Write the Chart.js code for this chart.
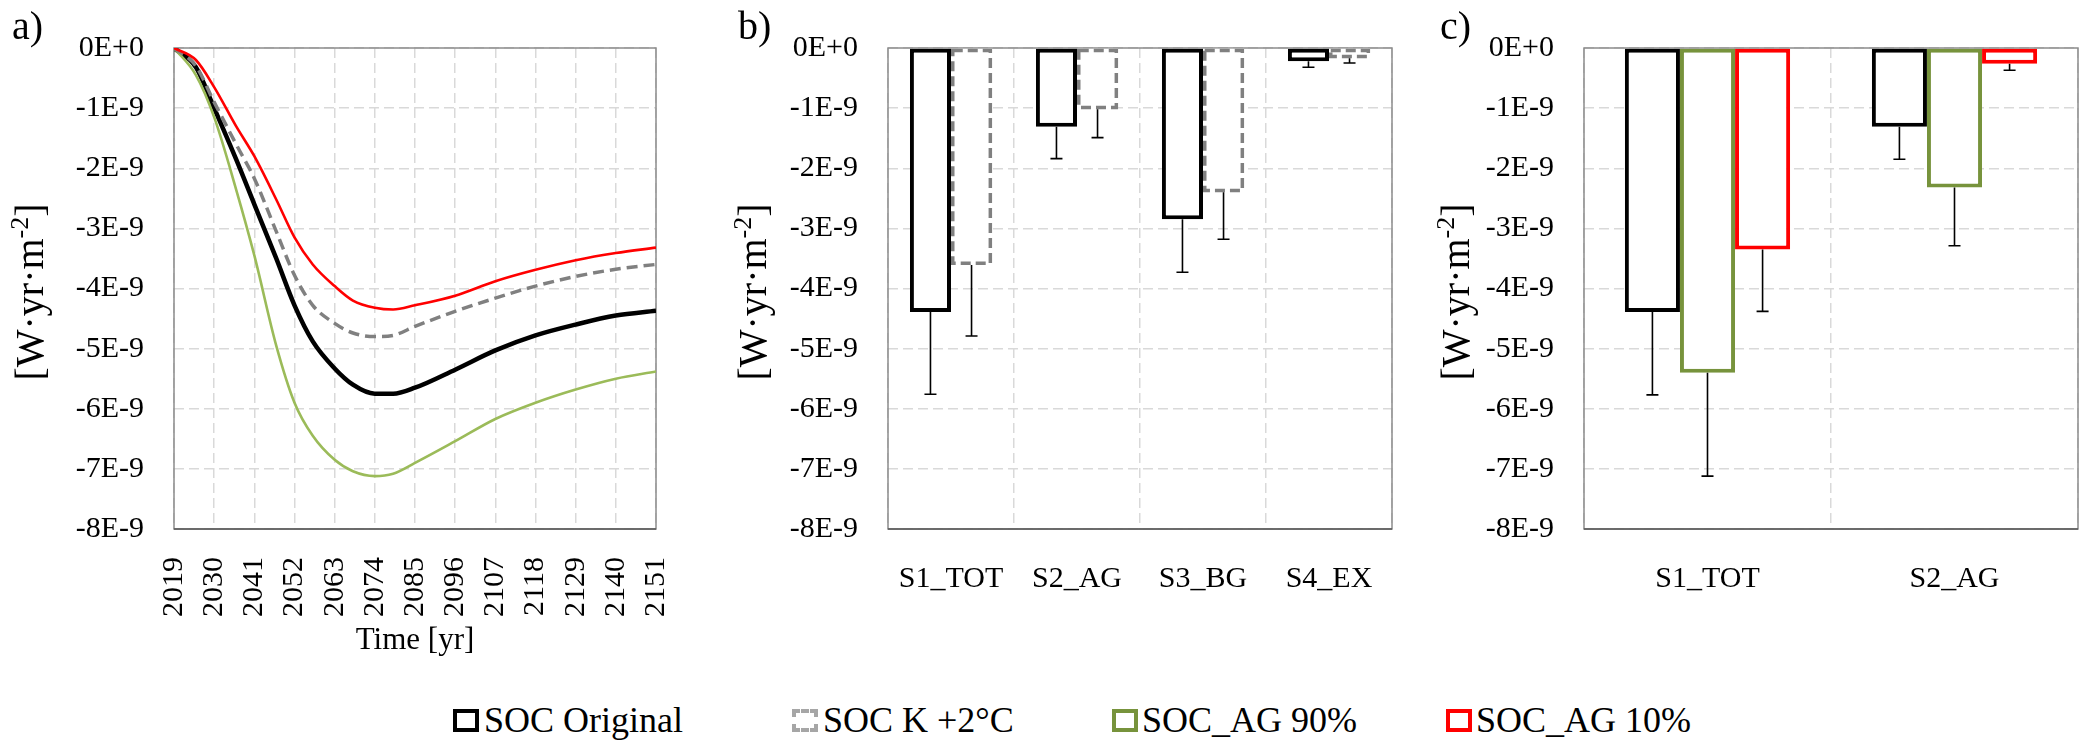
<!DOCTYPE html>
<html>
<head>
<meta charset="utf-8">
<script src="https://cdn.jsdelivr.net/npm/chart.js@4.4.1/dist/chart.umd.min.js"></script>
<style>
  body { margin: 0; background: #fff; }
  #page { position: relative; width: 2089px; height: 744px; overflow: hidden;
          font-family: 'Liberation Serif', serif; color: #000; background: #fff; }
  canvas { position: absolute; top: 0; }
  .panel-tag { position: absolute; top: 6px; font-size: 40px; line-height: 40px; }
  .y-title { position: absolute; font-size: 40px; line-height: 40px; white-space: nowrap;
             transform: translate(-50%, -50%) rotate(-90deg); }
  .y-title sup { font-size: 26px; line-height: 0; vertical-align: 15px; }
  .legend-box { position: absolute; top: 709px; width: 26px; height: 23px; box-sizing: border-box; background: #fff; }
  .legend-text { position: absolute; top: 702px; font-size: 36px; line-height: 36px; white-space: nowrap; }
</style>
</head>
<body>
<div id="page">
  <canvas id="chartA" width="720" height="700" style="left:0px;width:720px;height:700px"></canvas>
  <canvas id="chartB" width="690" height="700" style="left:720px;width:690px;height:700px"></canvas>
  <canvas id="chartC" width="669" height="700" style="left:1420px;width:669px;height:700px"></canvas>

  <div class="panel-tag" style="left:12px">a)</div>
  <div class="panel-tag" style="left:738px">b)</div>
  <div class="panel-tag" style="left:1440px">c)</div>

  <div class="y-title" style="left:30px;top:292px">[W·yr·m<sup>-2</sup>]</div>
  <div class="y-title" style="left:753px;top:292px">[W·yr·m<sup>-2</sup>]</div>
  <div class="y-title" style="left:1456px;top:292px">[W·yr·m<sup>-2</sup>]</div>

  <div class="legend-box" style="left:453px;border:4.5px solid #000"></div>
  <div class="legend-text" style="left:484px">SOC Original</div>
  <div class="legend-box" style="left:792px;border:4px dashed #A6A6A6"></div>
  <div class="legend-text" style="left:823px">SOC K +2°C</div>
  <div class="legend-box" style="left:1112px;border:4.5px solid #77933C"></div>
  <div class="legend-text" style="left:1142px">SOC_AG 90%</div>
  <div class="legend-box" style="left:1446px;border:4.5px solid #FF0000"></div>
  <div class="legend-text" style="left:1476px">SOC_AG 10%</div>
</div>

<script>
// values in units of 1E-9 W·yr·m-2

// a) time series
const years       = [2019, 2025, 2030, 2036, 2041, 2047, 2052, 2057, 2063, 2068, 2074, 2079, 2085, 2096, 2107, 2118, 2129, 2140, 2151];
const socOriginal = [0, -0.32, -1.0, -1.85, -2.6, -3.5, -4.28, -4.88, -5.33, -5.6, -5.75, -5.75, -5.65, -5.35, -5.03, -4.78, -4.6, -4.45, -4.37];
const socK2       = [0, -0.3, -0.9, -1.6, -2.17, -3.05, -3.78, -4.28, -4.58, -4.74, -4.8, -4.78, -4.63, -4.38, -4.16, -3.96, -3.8, -3.68, -3.6];
const socAg90     = [0, -0.45, -1.15, -2.35, -3.45, -4.95, -5.9, -6.45, -6.85, -7.04, -7.12, -7.08, -6.9, -6.54, -6.17, -5.9, -5.68, -5.5, -5.38];
const socAg10     = [0, -0.2, -0.65, -1.3, -1.8, -2.52, -3.15, -3.6, -3.96, -4.2, -4.32, -4.35, -4.28, -4.12, -3.88, -3.69, -3.53, -3.41, -3.32];

// b) scenarios, original vs K +2°C (bar value and lower end of error bar)
const scenariosB   = ['S1_TOT', 'S2_AG', 'S3_BG', 'S4_EX'];
const origB        = [-4.39, -1.31, -2.85, -0.22];
const origBErrLow  = [-5.76, -1.84, -3.73, -0.32];
const k2B          = [-3.61, -1.02, -2.4, -0.17];
const k2BErrLow    = [-4.79, -1.49, -3.18, -0.25];

// c) scenarios, original vs AG fractions
const scenariosC   = ['S1_TOT', 'S2_AG'];
const origC        = [-4.39, -1.31];
const origCErrLow  = [-5.77, -1.85];
const ag90C        = [-5.4, -2.32];
const ag90CErrLow  = [-7.12, -3.29];
const ag10C        = [-3.35, -0.26];
const ag10CErrLow  = [-4.38, -0.37];

const yTickLabels = ['0E+0', '-1E-9', '-2E-9', '-3E-9', '-4E-9', '-5E-9', '-6E-9', '-7E-9', '-8E-9'];

Chart.defaults.font.family = "'Liberation Serif', serif";
Chart.defaults.font.size = 30;
Chart.defaults.color = '#000';

// plot area frame
const plotFrame = {
    id: 'plotFrame',
    beforeDatasetsDraw(chart) {
        const { ctx, chartArea: a } = chart;
        ctx.save();
        ctx.lineWidth = 1.5;
        ctx.strokeStyle = '#8C8C8C';
        ctx.strokeRect(a.left, a.top, a.right - a.left, a.bottom - a.top);
        ctx.strokeStyle = '#595959';
        ctx.beginPath();
        ctx.moveTo(a.left, a.bottom);
        ctx.lineTo(a.right, a.bottom);
        ctx.stroke();
        ctx.restore();
    }
};

// dashed outline for bars (Chart.js fills bar borders, so no dash of its own)
const dashedBars = {
    id: 'dashedBars',
    afterDatasetsDraw(chart) {
        const ctx = chart.ctx;
        chart.data.datasets.forEach((ds, i) => {
            if (!ds.dashOutline) return;
            const w = ds.dashOutline.width;
            chart.getDatasetMeta(i).data.forEach(bar => {
                const { x, y, base, width } = bar.getProps(['x', 'y', 'base', 'width'], true);
                const left = x - width / 2 + w / 2;
                const right = x + width / 2 - w / 2;
                const top = Math.min(y, base) + w / 2;
                const bottom = Math.max(y, base) - w / 2;
                ctx.save();
                ctx.strokeStyle = ds.dashOutline.color;
                ctx.lineWidth = w;
                ctx.setLineDash(ds.dashOutline.dash);
                ctx.strokeRect(left, top, right - left, bottom - top);
                ctx.restore();
            });
        });
    }
};

// minus-only error bars with a cap
const errorBars = {
    id: 'errorBars',
    afterDatasetsDraw(chart) {
        const ctx = chart.ctx;
        const yScale = chart.scales.y;
        chart.data.datasets.forEach((ds, i) => {
            if (!ds.errorLow) return;
            chart.getDatasetMeta(i).data.forEach((bar, j) => {
                const x = bar.x;
                const y0 = bar.y;
                const y1 = yScale.getPixelForValue(ds.errorLow[j]);
                ctx.save();
                ctx.strokeStyle = '#000';
                ctx.lineWidth = 1.6;
                ctx.beginPath();
                ctx.moveTo(x, y0);
                ctx.lineTo(x, y1);
                ctx.moveTo(x - 6, y1);
                ctx.lineTo(x + 6, y1);
                ctx.stroke();
                ctx.restore();
            });
        });
    }
};

const gridStyle = { color: '#D9D9D9', lineWidth: 1.5, drawTicks: false };
const gridBorder = { display: false, dash: [10, 5] };

function yAxis(width) {
    return {
        min: -8,
        max: 0,
        ticks: { stepSize: 1, padding: 30, callback: v => yTickLabels[Math.round(-v)] },
        grid: gridStyle,
        border: gridBorder,
        afterFit: s => { s.width = width; }
    };
}

// 1. time series
new Chart(document.getElementById('chartA'), {
    type: 'line',
    data: {
        datasets: [
            {
                label: 'SOC_AG 10%',
                data: years.map((x, i) => ({ x, y: socAg10[i] })),
                borderColor: '#FF0000',
                borderWidth: 2.6
            },
            {
                label: 'SOC K +2°C',
                data: years.map((x, i) => ({ x, y: socK2[i] })),
                borderColor: '#808080',
                borderWidth: 3.5,
                borderDash: [11, 6]
            },
            {
                label: 'SOC_AG 90%',
                data: years.map((x, i) => ({ x, y: socAg90[i] })),
                borderColor: '#9BBB59',
                borderWidth: 2.6
            },
            {
                label: 'SOC Original',
                data: years.map((x, i) => ({ x, y: socOriginal[i] })),
                borderColor: '#000000',
                borderWidth: 4.5
            }
        ]
    },
    options: {
        responsive: false,
        animation: false,
        devicePixelRatio: 1,
        layout: { padding: { top: 27, right: 25, bottom: 41, left: 0 } },
        elements: { point: { radius: 0 }, line: { cubicInterpolationMode: 'monotone', fill: false } },
        plugins: { legend: { display: false }, tooltip: { enabled: false } },
        scales: {
            x: {
                type: 'linear',
                min: 2019,
                max: 2151,
                ticks: {
                    stepSize: 11,
                    autoSkip: false,
                    maxTicksLimit: 20,
                    minRotation: 90,
                    maxRotation: 90,
                    padding: 28,
                    callback: v => String(Math.round(v))
                },
                grid: gridStyle,
                border: gridBorder,
                title: { display: true, text: 'Time [yr]', font: { size: 31 }, padding: 0 },
                afterFit: s => { s.height = 130; }
            },
            y: yAxis(174)
        }
    },
    plugins: [plotFrame]
});

function barOptions(yWidth, padRight, catPct) {
    return {
        responsive: false,
        animation: false,
        devicePixelRatio: 1,
        layout: { padding: { top: 27, right: padRight, bottom: 0, left: 0 } },
        plugins: { legend: { display: false }, tooltip: { enabled: false } },
        datasets: { bar: { categoryPercentage: catPct, barPercentage: 1.0 } },
        scales: {
            x: {
                ticks: { padding: 32 },
                grid: gridStyle,
                border: gridBorder,
                afterFit: s => { s.height = 171; }
            },
            y: yAxis(yWidth)
        }
    };
}

// 2. original vs +2°C
new Chart(document.getElementById('chartB'), {
    type: 'bar',
    data: {
        labels: scenariosB,
        datasets: [
            {
                label: 'SOC Original',
                data: origB,
                errorLow: origBErrLow,
                backgroundColor: '#FFFFFF',
                borderColor: '#000000',
                borderWidth: 4,
                borderSkipped: false
            },
            {
                label: 'SOC K +2°C',
                data: k2B,
                errorLow: k2BErrLow,
                backgroundColor: '#FFFFFF',
                borderWidth: 0,
                dashOutline: { color: '#808080', width: 3.5, dash: [10, 5] }
            }
        ]
    },
    options: barOptions(168, 18, 0.652),
    plugins: [plotFrame, dashedBars, errorBars]
});

// 3. original vs AG fractions
new Chart(document.getElementById('chartC'), {
    type: 'bar',
    data: {
        labels: scenariosC,
        datasets: [
            {
                label: 'SOC Original',
                data: origC,
                errorLow: origCErrLow,
                backgroundColor: '#FFFFFF',
                borderColor: '#000000',
                borderWidth: 4,
                borderSkipped: false
            },
            {
                label: 'SOC_AG 90%',
                data: ag90C,
                errorLow: ag90CErrLow,
                backgroundColor: '#FFFFFF',
                borderColor: '#77933C',
                borderWidth: 4,
                borderSkipped: false
            },
            {
                label: 'SOC_AG 10%',
                data: ag10C,
                errorLow: ag10CErrLow,
                backgroundColor: '#FFFFFF',
                borderColor: '#FF0000',
                borderWidth: 4,
                borderSkipped: false
            }
        ]
    },
    options: barOptions(164, 11, 0.669),
    plugins: [plotFrame, errorBars]
});
</script>
</body>
</html>
